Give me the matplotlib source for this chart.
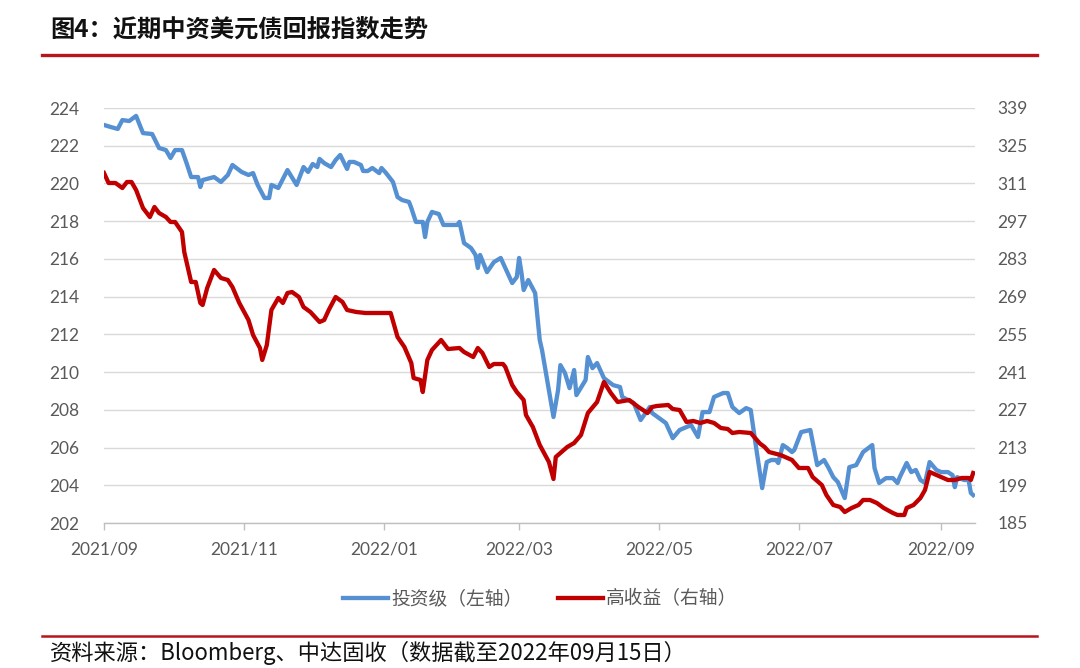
import matplotlib
matplotlib.use("Agg")
import matplotlib.pyplot as plt
import matplotlib.dates as mdates
from matplotlib.lines import Line2D
import pandas as pd

# ---------------- data ----------------
start_date = "2021-09-01"
# days after start_date (investment grade, left axis)
ig_days = [0, 3, 6, 8, 11, 14, 17, 21, 24, 27, 29, 31, 34, 36, 38, 41, 42, 43, 48, 51,
           54, 56, 60, 63, 65, 67, 70, 72, 73, 76, 80, 84, 87, 89, 91, 93, 94, 96, 99, 101,
           103, 106, 107, 109, 112, 113, 115, 117, 120, 121, 123, 126, 128, 130, 133, 134, 136, 139, 140, 141,
           143, 146, 148, 154, 155, 157, 160, 162, 163, 164, 167, 170, 173, 174, 178, 180, 181, 182, 183, 185,
           188, 190, 191, 194, 196, 198, 199, 201, 203, 205, 206, 210, 211, 213, 215, 218, 222, 225, 226, 231,
           234, 238, 239, 245, 248, 251, 256, 259, 261, 264, 266, 270, 272, 274, 277, 280, 282, 284, 287, 289,
           291, 293, 294, 296, 298, 300, 301, 304, 308, 311, 314, 316, 318, 320, 323, 325, 328, 331, 335, 336,
           338, 341, 344, 346, 347, 350, 352, 354, 356, 358, 360, 363, 365, 368, 370, 371, 372, 375, 377, 378, 379]
ig_values = [223.10, 222.99, 222.89, 223.36, 223.31, 223.58, 222.67, 222.62, 221.88, 221.77, 221.35, 221.77, 221.77, 221.08, 220.34, 220.34, 219.81, 220.18, 220.34, 220.08,
             220.45, 220.98, 220.61, 220.45, 220.55, 219.92, 219.23, 219.23, 219.92, 219.76, 220.71, 219.92, 220.87, 220.61, 221.03, 220.87, 221.30, 221.08, 220.87, 221.24,
             221.51, 220.77, 221.14, 221.14, 220.98, 220.66, 220.66, 220.82, 220.55, 220.82, 220.55, 220.08, 219.28, 219.12, 219.02, 218.70, 217.96, 217.96, 217.16, 217.96,
             218.49, 218.38, 217.80, 217.80, 217.96, 216.84, 216.58, 216.21, 215.52, 216.21, 215.30, 215.83, 216.05, 215.78, 214.72, 215.04, 216.05, 215.30, 214.35, 214.88,
             214.19, 211.70, 211.17, 209.05, 207.62, 209.05, 210.37, 209.95, 209.15, 210.11, 208.78, 209.58, 210.80, 210.21, 210.48, 209.68, 209.31, 209.21, 208.68, 208.36,
             207.46, 208.15, 207.83, 207.30, 206.50, 206.93, 207.19, 206.56, 207.88, 207.88, 208.68, 208.89, 208.89, 208.15, 207.83, 208.09, 207.99, 206.29, 203.85, 205.23,
             205.34, 205.34, 205.18, 206.13, 205.97, 205.76, 205.87, 206.82, 206.93, 205.07, 205.34, 204.91, 204.43, 204.17, 203.32, 204.96, 205.07, 205.76, 206.13, 204.91,
             204.12, 204.38, 204.38, 204.12, 204.43, 205.18, 204.70, 204.81, 204.28, 204.12, 205.23, 204.81, 204.70, 204.70, 204.54, 203.90, 204.43, 204.28, 204.28, 203.59, 203.48]

# high yield, right axis
hy_days = [0, 2, 5, 8, 10, 12, 14, 17, 20, 22, 24, 27, 29, 31, 34, 35, 38, 40, 42, 43,
           45, 48, 51, 54, 56, 59, 63, 65, 68, 69, 71, 73, 76, 78, 80, 82, 85, 87, 90, 94,
           96, 98, 101, 104, 106, 110, 114, 119, 125, 128, 131, 134, 135, 138, 139, 141, 143, 147, 150, 155,
           157, 161, 163, 165, 168, 170, 174, 175, 178, 180, 183, 184, 187, 190, 194, 196, 197, 202, 205, 208,
           211, 215, 218, 221, 224, 229, 233, 237, 239, 241, 246, 248, 251, 254, 257, 260, 263, 266, 269, 272,
           274, 277, 282, 286, 288, 290, 295, 298, 300, 303, 307, 309, 313, 315, 318, 321, 323, 326, 329, 331,
           334, 337, 340, 344, 346, 349, 350, 353, 356, 358, 360, 363, 365, 368, 371, 374, 377, 378, 379]
hy_values = [314.88, 311.17, 311.17, 309.31, 311.54, 311.54, 308.57, 301.89, 298.55, 302.26, 300.04, 298.55, 296.70, 296.70, 292.99, 285.56, 274.43, 274.43, 266.64, 265.90,
             272.21, 278.89, 275.92, 275.17, 272.58, 266.64, 260.33, 254.76, 249.94, 245.49, 251.05, 264.04, 268.49, 266.64, 270.35, 270.72, 268.87, 265.15, 263.30, 259.59,
             260.33, 264.04, 268.87, 267.01, 264.04, 263.30, 262.93, 262.93, 262.93, 254.02, 250.31, 244.37, 238.81, 238.07, 233.61, 245.49, 249.20, 252.91, 249.57, 249.94,
             248.46, 246.60, 249.94, 248.09, 242.89, 244.00, 244.00, 242.89, 236.21, 233.61, 230.64, 225.08, 220.63, 213.95, 207.64, 201.33, 209.49, 213.20, 214.69, 217.66,
             225.82, 229.90, 237.32, 233.24, 229.90, 230.64, 228.05, 225.82, 228.05, 228.42, 228.79, 227.30, 226.93, 222.48, 222.85, 222.11, 222.85, 222.11, 220.25, 219.88,
             218.40, 218.77, 218.40, 214.50, 213.24, 211.35, 210.23, 209.12, 208.38, 205.41, 205.41, 202.07, 199.10, 195.39, 191.68, 190.94, 189.08, 190.57, 191.68, 193.54,
             193.54, 192.42, 190.57, 188.71, 187.97, 187.97, 190.57, 191.68, 194.28, 197.25, 203.93, 202.81, 202.07, 200.96, 200.96, 201.70, 201.70, 200.96, 203.56]

left_ticks = [202, 204, 206, 208, 210, 212, 214, 216, 218, 220, 222, 224]
right_ticks = [185, 199, 213, 227, 241, 255, 269, 283, 297, 311, 325, 339]
x_tick_dates = ["2021-09-01", "2021-11-01", "2022-01-01", "2022-03-01", "2022-05-01", "2022-07-01", "2022-09-01"]

title = "图4：近期中资美元债回报指数走势"
source = "资料来源：Bloomberg、中达固收（数据截至2022年09月15日）"
label_ig = "投资级（左轴）"
label_hy = "高收益（右轴）"

# ---------------- style ----------------
BLUE = "#5590D2"
RED = "#C00000"
DARKRED = "#B8141B"
GRID = "#D9D9D9"
TICKC = "#595959"
CJK = ["Noto Sans CJK SC", "DejaVu Sans"]
NUM = ["Lato", "DejaVu Sans"]

plt.rcParams["font.family"] = NUM

base = pd.Timestamp(start_date)
ig_dates = base + pd.to_timedelta(ig_days, unit="D")
hy_dates = base + pd.to_timedelta(hy_days, unit="D")

fig = plt.figure(figsize=(10.8, 6.68), dpi=100)
W, H = 1080, 668
x0, x1, y0, y1 = 104, 975, 108, 523
ax = fig.add_axes([x0 / W, 1 - y1 / H, (x1 - x0) / W, (y1 - y0) / H])
ax2 = ax.twinx()

ax.plot(ig_dates, ig_values, color=BLUE, lw=3.1, solid_joinstyle="round", zorder=3)
ax2.plot(hy_dates, hy_values, color=RED, lw=3.1, solid_joinstyle="round", zorder=3)

ax.set_ylim(202, 224)
ax.set_yticks(left_ticks)
ax2.set_ylim(185, 339)
ax2.set_yticks(right_ticks)
ax.set_xlim(base, base + pd.Timedelta(days=379.8))
ax.set_xticks(pd.to_datetime(x_tick_dates))
ax.xaxis.set_major_formatter(mdates.DateFormatter("%Y/%m"))

ax.grid(axis="y", color=GRID, lw=1.0)
ax.set_axisbelow(True)
for a in (ax, ax2):
    for s in ("top", "left", "right", "bottom"):
        a.spines[s].set_visible(False)
ax.spines["bottom"].set_visible(True)
ax.spines["bottom"].set_color("#BFBFBF")
ax.spines["bottom"].set_linewidth(1.0)

ax.tick_params(axis="y", length=0, pad=18, labelsize=12.5, labelcolor=TICKC)
ax2.tick_params(axis="y", length=0, pad=16, labelsize=12.5, labelcolor=TICKC)
ax.tick_params(axis="x", length=5, width=1, color="#BFBFBF", pad=8, labelsize=12.5, labelcolor=TICKC)

# title and rules
fig.text(50 / W, 1 - 31 / H, title, family=CJK, fontsize=17.5, fontweight="bold",
         color="#111111", ha="left", va="center")
fig.add_artist(Line2D([42 / W, 1037 / W], [1 - 55 / H, 1 - 55 / H], color=DARKRED, lw=2.4))
fig.add_artist(Line2D([42 / W, 1037 / W], [1 - 636 / H, 1 - 636 / H], color=DARKRED, lw=1.8))
fig.text(50 / W, 1 - 653 / H, source, family=CJK, fontsize=16, color="#111111",
         ha="left", va="center")

# legend
h1 = Line2D([], [], color=BLUE, lw=3.1)
h2 = Line2D([], [], color=RED, lw=3.1)
leg = fig.legend([h1, h2], [label_ig, label_hy], loc="center", bbox_to_anchor=(540 / W, 1 - 599 / H),
                 ncol=2, frameon=False, prop={"family": CJK, "size": 13.5},
                 handlelength=2.4, handletextpad=0.15, columnspacing=1.9)
for t in leg.get_texts():
    t.set_color(TICKC)

fig.savefig("out.png", dpi=100)
